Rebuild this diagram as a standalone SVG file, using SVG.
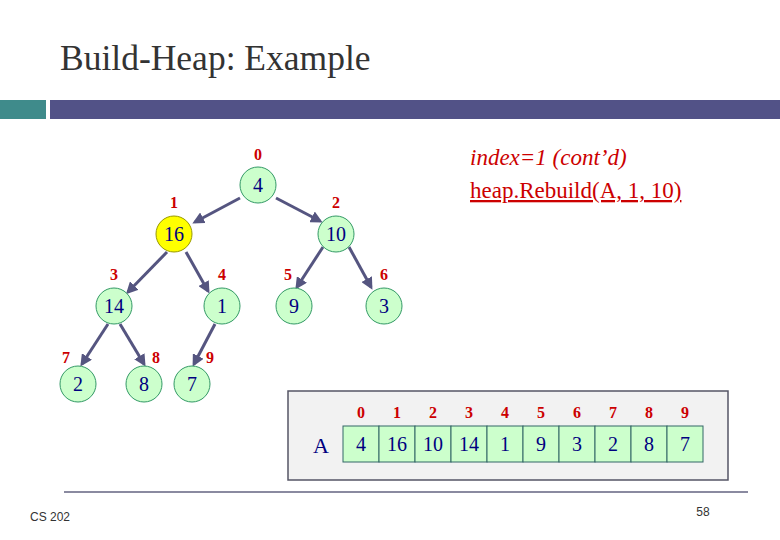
<svg xmlns="http://www.w3.org/2000/svg" width="780" height="540" viewBox="0 0 780 540">
<style>
.n{fill:#ccffcc;stroke:#339966;stroke-width:1}
.y{fill:#ffff00;stroke:#999900;stroke-width:1}
.v{font-family:"Liberation Serif",serif;font-size:20px;fill:#000080;text-anchor:middle}
.i{font-family:"Liberation Serif",serif;font-size:16px;font-weight:bold;fill:#cc0000;text-anchor:middle}
.e{stroke:#555580;stroke-width:3;fill:none;marker-end:url(#a)}
.c{fill:#ccffcc;stroke:#336666;stroke-width:1}
</style>
<defs><marker id="a" markerWidth="4" markerHeight="4" refX="3" refY="2" orient="auto"><path d="M0,0L4,2L0,4z" fill="#555580"/></marker></defs>
<rect width="780" height="540" fill="#fff"/>
<text x="60" y="70" font-family="Liberation Serif,serif" font-size="35.5" fill="#333">Build-Heap: Example</text>
<rect x="0" y="100" width="46" height="19" fill="#3f8b8b"/>
<rect x="50" y="100" width="730" height="19" fill="#525287"/>
<g id="edges">
<line class="e" x1="240" y1="198" x2="195" y2="222"/>
<line class="e" x1="276" y1="198" x2="320" y2="221"/>
<line class="e" x1="167" y1="252" x2="128" y2="292"/>
<line class="e" x1="186" y1="252" x2="208" y2="291"/>
<line class="e" x1="323" y1="247" x2="297" y2="287"/>
<line class="e" x1="349" y1="247" x2="371" y2="287"/>
<line class="e" x1="108" y1="324" x2="82" y2="364"/>
<line class="e" x1="120" y1="324" x2="144" y2="364"/>
<line class="e" x1="215" y1="324" x2="194" y2="364"/>
</g>
<g id="n0"><circle class="n" cx="258" cy="185" r="18"/><text class="v" x="258" y="192">4</text><text class="i" x="258" y="160">0</text></g>
<g id="n1"><circle class="y" cx="174" cy="234" r="18"/><text class="v" x="174" y="241">16</text><text class="i" x="174" y="208">1</text></g>
<g id="n2"><circle class="n" cx="336" cy="234" r="18"/><text class="v" x="336" y="241">10</text><text class="i" x="336" y="208">2</text></g>
<g id="n3"><circle class="n" cx="114" cy="306" r="18"/><text class="v" x="114" y="313">14</text><text class="i" x="114" y="280">3</text></g>
<g id="n4"><circle class="n" cx="222" cy="306" r="18"/><text class="v" x="222" y="313">1</text><text class="i" x="222" y="280">4</text></g>
<g id="n5"><circle class="n" cx="294" cy="306" r="18"/><text class="v" x="294" y="313">9</text><text class="i" x="288" y="280">5</text></g>
<g id="n6"><circle class="n" cx="384" cy="306" r="18"/><text class="v" x="384" y="313">3</text><text class="i" x="384" y="280">6</text></g>
<g id="n7"><circle class="n" cx="78" cy="384" r="18"/><text class="v" x="78" y="391">2</text><text class="i" x="66" y="363">7</text></g>
<g id="n8"><circle class="n" cx="144" cy="384" r="18"/><text class="v" x="144" y="391">8</text><text class="i" x="156" y="363">8</text></g>
<g id="n9"><circle class="n" cx="192" cy="384" r="18"/><text class="v" x="192" y="391">7</text><text class="i" x="210" y="363">9</text></g>
<g id="note" font-family="Liberation Serif,serif" font-size="23" fill="#cc0000">
<text x="470" y="165" font-style="italic">index=1 (cont’d)</text>
<text x="470" y="198" text-decoration="underline">heap.Rebuild(A, 1, 10)</text>
</g>
<g id="array">
<rect x="288" y="391" width="440" height="89" fill="#f2f2f2" stroke="#555566" stroke-width="1.5"/>
<text x="321" y="453" font-family="Liberation Serif,serif" font-size="22" fill="#000080" text-anchor="middle">A</text>
<rect class="c" x="343" y="426" width="36" height="36"/><rect class="c" x="379" y="426" width="36" height="36"/><rect class="c" x="415" y="426" width="36" height="36"/><rect class="c" x="451" y="426" width="36" height="36"/><rect class="c" x="487" y="426" width="36" height="36"/><rect class="c" x="523" y="426" width="36" height="36"/><rect class="c" x="559" y="426" width="36" height="36"/><rect class="c" x="595" y="426" width="36" height="36"/><rect class="c" x="631" y="426" width="36" height="36"/><rect class="c" x="667" y="426" width="36" height="36"/>
<text class="v" x="361" y="451">4</text><text class="v" x="397" y="451">16</text><text class="v" x="433" y="451">10</text><text class="v" x="469" y="451">14</text><text class="v" x="505" y="451">1</text><text class="v" x="541" y="451">9</text><text class="v" x="577" y="451">3</text><text class="v" x="613" y="451">2</text><text class="v" x="649" y="451">8</text><text class="v" x="685" y="451">7</text>
<text class="i" x="361" y="418">0</text><text class="i" x="397" y="418">1</text><text class="i" x="433" y="418">2</text><text class="i" x="469" y="418">3</text><text class="i" x="505" y="418">4</text><text class="i" x="541" y="418">5</text><text class="i" x="577" y="418">6</text><text class="i" x="613" y="418">7</text><text class="i" x="649" y="418">8</text><text class="i" x="685" y="418">9</text>
</g>
<line x1="64" y1="492" x2="748" y2="492" stroke="#8a8aa0" stroke-width="2"/>
<text x="30" y="521" font-family="Liberation Sans,sans-serif" font-size="12" fill="#333">CS 202</text>
<text x="703" y="516" font-family="Liberation Sans,sans-serif" font-size="12" fill="#333" text-anchor="middle">58</text>
</svg>
